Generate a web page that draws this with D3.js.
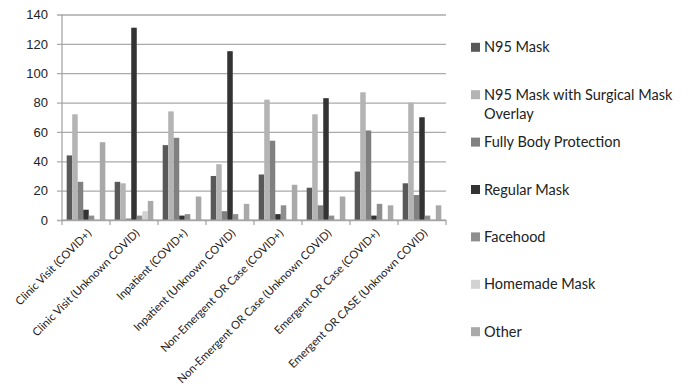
<!DOCTYPE html>
<html>
<head>
<meta charset="utf-8">
<script src="https://cdn.jsdelivr.net/npm/d3@7"></script>
<style>
  html, body { margin: 0; padding: 0; background: #fff; }
  svg { display: block; font-family: Lato, "Open Sans", sans-serif; }
</style>
</head>
<body>
<svg id="chart" width="688" height="391"></svg>
<script>
// Settings where each protection type was used
const categories = [
  "Clinic Visit (COVID+)",
  "Clinic Visit (Unknown COVID)",
  "Inpatient (COVID+)",
  "Inpatient (Unknown COVID)",
  "Non-Emergent OR Case (COVID+)",
  "Non-Emergent OR Case (Unknown COVID)",
  "Emergent OR Case (COVID+)",
  "Emergent OR CASE (Unknown COVID)"
];

const seriesNames = [
  "N95 Mask",
  "N95 Mask with Surgical Mask Overlay",
  "Fully Body Protection",
  "Regular Mask",
  "Facehood",
  "Homemade Mask",
  "Other"
];

// One value per category, in category order
const n95Mask          = [44, 26, 51, 30, 31, 22, 33, 25];
const n95WithOverlay   = [72, 25, 74, 38, 82, 72, 87, 80];
const fullyBody        = [26, 1, 56, 6, 54, 10, 61, 17];
const regularMask      = [7, 131, 3, 115, 4, 83, 3, 70];
const facehood         = [3, 3, 4, 4, 10, 3, 11, 3];
const homemadeMask     = [0, 6, 0, 0, 0, 0, 0, 0];
const other            = [53, 13, 16, 11, 24, 16, 10, 10];

const yTicks = [0, 20, 40, 60, 80, 100, 120, 140];

const seriesValues = [n95Mask, n95WithOverlay, fullyBody, regularMask, facehood, homemadeMask, other];
const seriesColors = ["#595959", "#b4b4b4", "#808080", "#333333", "#8e8e8e", "#d2d2d2", "#a9a9a9"];

const svg = d3.select("#chart");

const plot = { left: 62, right: 446, top: 14.5, bottom: 220 };

const x = d3.scaleBand()
  .domain(categories)
  .range([plot.left, plot.right])
  .paddingInner(0)
  .paddingOuter(0);

const xInner = d3.scaleBand()
  .domain(seriesNames)
  .range([0, x.bandwidth()])
  .paddingInner(0)
  .paddingOuter(0.85);

const y = d3.scaleLinear()
  .domain([0, 140])
  .range([plot.bottom, plot.top]);

// Horizontal gridlines with short outward ticks
const yAxis = d3.axisLeft(y)
  .tickValues(yTicks)
  .tickSize(plot.right - plot.left + 5)
  .tickPadding(10)
  .tickFormat(d3.format("d"));

const gy = svg.append("g")
  .attr("transform", `translate(${plot.right},0)`)
  .call(yAxis);
gy.select(".domain").remove();
gy.selectAll(".tick line")
  .attr("stroke", "#aaaaaa")
  .attr("stroke-width", 1.3);
gy.selectAll(".tick text")
  .attr("x", -(plot.right - plot.left) - 14)
  .attr("fill", "#222")
  .style("font-size", "13px");

// Bars
const rows = categories.map((c, i) => ({
  category: c,
  values: seriesNames.map((s, j) => ({ series: s, value: seriesValues[j][i], color: seriesColors[j] }))
}));

svg.append("g")
  .selectAll("g")
  .data(rows)
  .join("g")
    .attr("transform", d => `translate(${x(d.category)},0)`)
  .selectAll("rect")
  .data(d => d.values)
  .join("rect")
    .attr("x", d => xInner(d.series))
    .attr("width", xInner.bandwidth())
    .attr("y", d => y(d.value))
    .attr("height", d => y(0) - y(d.value))
    .attr("fill", d => d.color);

// Vertical axis line
svg.append("line")
  .attr("x1", plot.left).attr("x2", plot.left)
  .attr("y1", y(140)).attr("y2", y(0))
  .attr("stroke", "#a0a0a0")
  .attr("stroke-width", 1.2);

// Category axis with ticks at band boundaries
svg.append("line")
  .attr("x1", plot.left).attr("x2", plot.right)
  .attr("y1", y(0)).attr("y2", y(0))
  .attr("stroke", "#a0a0a0")
  .attr("stroke-width", 1.2);

const boundaries = categories.map(c => x(c)).concat([plot.right]);
svg.append("g")
  .selectAll("line")
  .data(boundaries)
  .join("line")
    .attr("x1", d => d).attr("x2", d => d)
    .attr("y1", y(0)).attr("y2", y(0) + 5)
    .attr("stroke", "#a0a0a0")
    .attr("stroke-width", 1.2);

svg.append("g")
  .selectAll("text")
  .data(categories)
  .join("text")
    .attr("transform", d => `translate(${x(d) + x.bandwidth() / 2 + 6},${y(0) + 14}) rotate(-45)`)
    .attr("text-anchor", "end")
    .attr("fill", "#222")
    .style("font-size", "11.2px")
    .text(d => d);

// Legend
const legendRows = [
  { name: seriesNames[0], lines: ["N95 Mask"] },
  { name: seriesNames[1], lines: ["N95 Mask with Surgical Mask", "Overlay"] },
  { name: seriesNames[2], lines: ["Fully Body Protection"] },
  { name: seriesNames[3], lines: ["Regular Mask"] },
  { name: seriesNames[4], lines: ["Facehood"] },
  { name: seriesNames[5], lines: ["Homemade Mask"] },
  { name: seriesNames[6], lines: ["Other"] }
];

const legend = svg.append("g");
const leg = legend.selectAll("g")
  .data(legendRows)
  .join("g")
    .attr("transform", (d, i) => `translate(471,${47.3 + i * 47.4})`);

leg.append("rect")
  .attr("x", 0).attr("y", -4.5)
  .attr("width", 9).attr("height", 9)
  .attr("fill", (d, i) => seriesColors[i]);

leg.append("text")
  .attr("x", 13)
  .attr("fill", "#222")
  .style("font-size", "14.5px")
  .selectAll("tspan")
  .data(d => d.lines)
  .join("tspan")
    .attr("x", 13)
    .attr("y", (d, i) => 5 + i * 19)
    .text(d => d);
</script>
</body>
</html>
